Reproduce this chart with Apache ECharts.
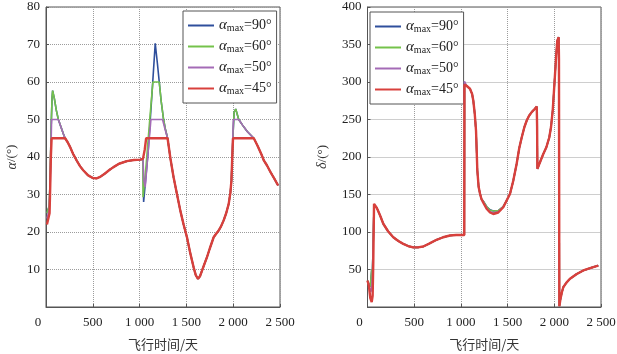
<!DOCTYPE html>
<html>
<head>
<meta charset="utf-8">
<script src="https://cdn.jsdelivr.net/npm/echarts@6/dist/echarts.min.js"></script>
<style>
  html, body { margin: 0; padding: 0; background: #fff; }
  #chart { width: 617px; height: 354px; }
</style>
</head>
<body>
<div id="chart"></div>
<script>
// series names (legend), days on x
const seriesNames = ["90", "60", "50", "45"];
const seriesColors = ["#2f4f9c", "#74c24b", "#a46bb6", "#d8403c"];
const xTicks = [0, 500, 1000, 1500, 2000, 2500];

// --- left chart: alpha (deg) vs flight days ---
const alphaMid = [[230, 44], [257, 42.7], [290, 40.8], [329, 39], [365, 37.5], [400, 36.4], [450, 35.1], [500, 34.4], [540, 34.3], [579, 34.7], [630, 35.6], [680, 36.6], [721, 37.3], [780, 38.2], [864, 38.9], [940, 39.2], [1007, 39.3], [1036, 39.5]];
const alphaLow = [[1330, 39.5], [1363, 34.6], [1400, 30], [1435, 25.7], [1470, 22], [1506, 18.6], [1540, 14.5], [1577, 10.6], [1600, 8.5], [1624, 7.5], [1645, 8.2], [1667, 9.7], [1690, 11.3], [1720, 13.3], [1750, 15.6], [1791, 18.6], [1820, 19.6], [1845, 20.4], [1870, 21.5], [1898, 23.1], [1925, 25], [1952, 27.5], [1970, 30.5], [1981, 33.7]];
const alphaTail = [[2260, 43], [2300, 40.8], [2327, 39.1], [2360, 37.8], [2398, 36], [2440, 34.2], [2480, 32.4]];

const alpha90 = [[10, 25], [25, 24.5], [35, 27], [45, 35], [55, 48], [65, 56], [71, 57.7], [90, 55.5], [110, 52.5], [132, 50], [160, 48], [185, 46.2], [204, 45]]
  .concat(alphaMid,
    [[1043, 28], [1049, 27.9], [1090, 41], [1130, 56], [1167, 70.3], [1190, 65], [1210, 60], [1230, 55], [1256, 50], [1275, 47.5], [1299, 45]],
    alphaLow,
    [[1990, 40], [2000, 47], [2010, 52], [2027, 52.8], [2059, 50], [2100, 48.5], [2150, 46.8], [2220, 45]],
    alphaTail);
const alpha60 = [[10, 25], [25, 24.5], [35, 27], [45, 35], [55, 48], [65, 56], [71, 57.7], [90, 55.5], [110, 52.5], [132, 50], [160, 48], [185, 46.2], [204, 45]]
  .concat(alphaMid,
    [[1037, 29.3], [1070, 38], [1110, 50.5], [1142, 60], [1210, 60], [1230, 55], [1256, 50], [1275, 47.5], [1299, 45]],
    alphaLow,
    [[1990, 40], [2000, 47], [2010, 52], [2027, 52.8], [2059, 50], [2100, 48.5], [2150, 46.8], [2220, 45]],
    alphaTail);
const alpha50 = [[10, 23.6], [25, 23.5], [35, 26], [45, 33], [53, 42], [60, 50], [132, 50], [160, 48], [185, 46.2], [204, 45]]
  .concat(alphaMid,
    [[1045, 34], [1060, 32], [1090, 41], [1121, 50], [1245, 50], [1270, 47.6], [1299, 45]],
    alphaLow,
    [[1990, 41], [2002, 50], [2059, 50], [2100, 48.5], [2150, 46.8], [2220, 45]],
    alphaTail);
const alpha45 = [[10, 22], [20, 21.8], [30, 22.5], [38, 25], [45, 32], [52, 40], [60, 45], [204, 45]]
  .concat(alphaMid,
    [[1042, 39.8], [1055, 42], [1070, 45], [1299, 45]],
    alphaLow,
    [[1990, 40], [1998, 45], [2220, 45]],
    alphaTail);

// --- right chart: delta (deg) vs flight days ---
const deltaMid = [[100, 132], [135, 122], [169, 111], [220, 101], [276, 93], [330, 88], [383, 84.2], [440, 81], [490, 79.5], [540, 79.5], [597, 80.7], [660, 84.5], [740, 89.6], [810, 93], [883, 95.3], [950, 96], [1036, 96]];
const deltaFall = [[1060, 295], [1097, 291], [1120, 284], [1133, 275], [1148, 258], [1162, 235], [1176, 182], [1190, 160], [1205, 151], [1220, 144]];
const deltaRise = [[1490, 142], [1526, 151], [1560, 168], [1597, 191], [1625, 212], [1651, 226], [1680, 240], [1705, 248.7], [1730, 255], [1758, 259.8], [1790, 264], [1812, 267.3], [1816, 240], [1819, 184.2], [1850, 194], [1882, 204], [1915, 213], [1946, 226], [1965, 240], [1983, 262], [1995, 285], [2008, 311], [2020, 335], [2032, 355], [2047, 359.8], [2050, 330], [2054, 1], [2065, 10], [2080, 19], [2096, 26.4], [2130, 32.5], [2168, 37.6], [2240, 44], [2311, 48.7], [2400, 52.5], [2471, 55.3]];

const delta90 = [[0, 35], [15, 30], [30, 27], [38, 27.5], [45, 50], [50, 35], [60, 80], [70, 136]]
  .concat(deltaMid, [[1038, 299]], deltaFall,
    [[1240, 141], [1275, 134], [1312, 129.5], [1347, 128], [1400, 128.5], [1454, 134]], deltaRise);
const delta60 = [[0, 35], [15, 30], [30, 27], [38, 27.5], [45, 50], [50, 35], [60, 80], [70, 136]]
  .concat(deltaMid, [[1038, 299]], deltaFall,
    [[1240, 141], [1275, 134], [1312, 129], [1347, 128], [1400, 128.5], [1454, 134]], deltaRise);
const delta50 = [[0, 34], [20, 28], [35, 20], [45, 25], [52, 40], [62, 90], [70, 137]]
  .concat(deltaMid, [[1038, 301]], deltaFall,
    [[1240, 140], [1275, 132], [1312, 127], [1347, 125.5], [1400, 127], [1454, 133.5]], deltaRise);
const delta45 = [[0, 35.3], [15, 28], [30, 12], [45, 6.4], [55, 15], [62, 60], [70, 137.6]]
  .concat(deltaMid, [[1038, 296.7]], deltaFall,
    [[1240, 139], [1275, 131], [1312, 126], [1347, 124], [1400, 126], [1454, 133]], deltaRise);

const serif = "Liberation Serif";
const cjk = "Noto Sans CJK SC";

function xLabel(v) {
  if (v === 0) return "{z|0}";
  return String(v).replace(/\B(?=(\d{3})+$)/, " ");
}

function xAxis(gridIndex) {
  return {
    type: "value",
    gridIndex,
    min: 0,
    max: 2500,
    interval: 500,
    name: "飞行时间/天",
    nameLocation: "middle",
    nameGap: 31,
    nameTextStyle: { fontFamily: cjk, fontSize: 13, color: "#333" },
    axisLine: { lineStyle: { color: "#555" } },
    axisTick: { inside: true, length: 3, lineStyle: { color: "#555" } },
    axisLabel: {
      fontFamily: serif, fontSize: 13, color: "#222", margin: 9,
      formatter: xLabel,
      rich: { z: { fontFamily: serif, fontSize: 13, color: "#222", padding: [0, 16, 0, 0] } }
    },
    splitLine: { lineStyle: { color: "#9c9c9c", type: "dotted" } }
  };
}

function yAxis(gridIndex, max, interval, sym, gap) {
  return {
    type: "value",
    gridIndex,
    min: 0,
    max,
    interval,
    name: "{i|" + sym + "}/(°)",
    nameLocation: "middle",
    nameRotate: 90,
    nameGap: gap,
    nameTextStyle: {
      fontFamily: serif, fontSize: 13, color: "#333",
      rich: { i: { fontFamily: serif, fontStyle: "italic", fontSize: 14, color: "#333" } }
    },
    axisLine: { lineStyle: { color: "#555" } },
    axisTick: { inside: true, length: 3, lineStyle: { color: "#555" } },
    axisLabel: {
      fontFamily: serif, fontSize: 13, color: "#222", margin: 6,
      formatter: (v) => (v === 0 ? "" : String(v))
    },
    splitLine: { lineStyle: { color: "#9c9c9c", type: "dotted" } }
  };
}

function legend(left, top) {
  return {
    left, top,
    orient: "vertical",
    data: seriesNames,
    icon: "rect",
    itemWidth: 26,
    itemHeight: 2,
    itemGap: 6,
    padding: [7, 5, 7, 5],
    backgroundColor: "#fff",
    borderColor: "#555",
    borderWidth: 1,
    borderRadius: 0,
    selectedMode: false,
    formatter: (name) => "{a|α}{s|max}{t|=" + name + "°}",
    textStyle: {
      fontFamily: serif, fontSize: 14, color: "#222",
      rich: {
        a: { fontFamily: serif, fontStyle: "italic", fontSize: 15, color: "#222" },
        s: { fontFamily: serif, fontSize: 10, color: "#222", verticalAlign: "bottom", lineHeight: 12 },
        t: { fontFamily: serif, fontSize: 14, color: "#222" }
      }
    }
  };
}

const alphaData = [alpha90, alpha60, alpha50, alpha45];
const deltaData = [delta90, delta60, delta50, delta45];

function lines(dataList, axisIndex) {
  return dataList.map((data, i) => ({
    name: seriesNames[i],
    type: "line",
    xAxisIndex: axisIndex,
    yAxisIndex: axisIndex,
    data,
    showSymbol: false,
    symbol: "none",
    animation: false,
    lineStyle: { color: seriesColors[i], width: i === 3 ? 2.4 : 1.6 },
    itemStyle: { color: seriesColors[i] },
    z: 2 + i
  }));
}

const chart = echarts.init(document.getElementById("chart"));
chart.setOption({
  animation: false,
  backgroundColor: "#fff",
  grid: [
    { left: 46, top: 7, width: 234, height: 300, show: true, borderColor: "#555", borderWidth: 1, outerBoundsMode: "none" },
    { left: 367.5, top: 7, width: 233.5, height: 300, show: true, borderColor: "#555", borderWidth: 1, outerBoundsMode: "none" }
  ],
  legend: [legend(183, 11), legend(370, 12)],
  xAxis: [xAxis(0), xAxis(1)],
  yAxis: [yAxis(0, 80, 10, "α", 27), yAxis(1, 400, 50, "δ", 38)],
  series: lines(alphaData, 0).concat(lines(deltaData, 1))
});
</script>
</body>
</html>
